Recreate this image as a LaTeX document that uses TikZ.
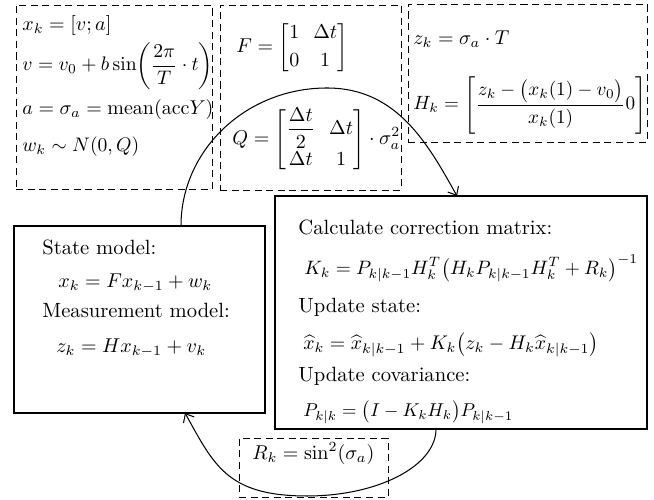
\documentclass[tikz,border=0pt]{standalone}
\usepackage{amsmath}
\usetikzlibrary{fit,arrows.meta}
\newcommand{\sm}[2]{\scalebox{#1}{$\displaystyle #2$}}
\begin{document}
\begin{tikzpicture}[x=0.485pt,y=-0.485pt,
  dbox/.style={draw, dash pattern=on 3.4pt off 2.2pt, line width=0.45pt, inner sep=0pt, outer sep=0pt},
  sbox/.style={draw, line width=0.55pt, inner sep=0pt, outer sep=0pt},
  txt/.style={inner sep=0pt, anchor=base west},
  flow/.style={line width=0.5pt, -{Straight Barb[length=3.5pt,width=6pt]}}]
\useasboundingbox (0,0) rectangle (654,500);
% boxes
\node[dbox, fit={(16,5) (212,189)}] (b1) {};
\node[dbox, fit={(220,5) (401,190)}] (b2) {};
\node[dbox, fit={(408,4) (647,142)}] (b3) {};
\node[sbox, fit={(14,226) (265,413)}] (lbox) {};
\node[sbox, fit={(275,196) (647,429)}] (rbox) {};
\node[dbox, fit={(239,438) (388,497)}] (rk) {};
% box 1
\node[txt] (t1) at (22,31) {\sm{0.97}{x_k = [v; a]}};
\node[txt] (t2) at (22,71) {\sm{0.95}{v = v_0 + b\sin\!\left(\dfrac{2\pi}{T}\cdot t\right)}};
\node[txt] (t3) at (22,115) {\sm{0.97}{a = \sigma_a = \text{mean}(\text{acc}Y)}};
\node[txt] (t4) at (22,152) {\sm{0.95}{w_k \sim N(0, Q)}};
% box 2
\setlength{\arraycolsep}{3.5pt}
\node[txt] (f) at (236,53) {\sm{0.97}{F = \begin{bmatrix}1 & \Delta t\\[2pt] 0 & 1\end{bmatrix}}};
\node[txt] (q) at (232,145) {\sm{0.97}{Q = \begin{bmatrix}\dfrac{\Delta t}{2} & \Delta t\\[3pt] \Delta t & 1\end{bmatrix}\cdot\sigma_a^2}};
% box 3
\node[txt] (z) at (413,45) {\sm{0.97}{z_k = \sigma_a\cdot T}};
\node[txt] (h) at (413,110) {\sm{0.93}{H_k = \left[\dfrac{z_k - \bigl(x_k(1) - v_0\bigr)}{x_k(1)} 0\right]}};
% left box
\node[txt] (s1) at (42,255) {State model:};
\node[txt] (s2) at (58,288) {\sm{0.97}{x_k = Fx_{k-1} + w_k}};
\node[txt] (s3) at (42,318) {Measurement model:};
\node[txt] (s4) at (56,353) {\sm{0.97}{z_k = Hx_{k-1} + v_k}};
% right box
\node[txt] (c1) at (298,235) {Calculate correction matrix:};
\node[txt] (c2) at (304,275) {\sm{0.94}{K_k = P_{k|k-1}H_k^T\bigl(H_kP_{k|k-1}H_k^T + R_k\bigr)^{-1}}};
\node[txt] (c3) at (298,313) {Update state:};
\node[txt] (c4) at (303,350) {\sm{0.96}{\widehat{x}_k = \widehat{x}_{k|k-1} + K_k\bigl(z_k - H_k\widehat{x}_{k|k-1}\bigr)}};
\node[txt] (c5) at (298,382) {Update covariance:};
\node[txt] (c6) at (303,417) {\sm{0.9}{P_{k|k} = \bigl(I - K_kH_k\bigr)P_{k|k-1}}};
% R box
\node[txt] (r) at (252,460) {\sm{0.97}{R_k = \sin^2(\sigma_a)}};
% connectors
\coordinate (a0) at (181,226);
\coordinate (a1) at (327,88);
\coordinate (a2) at (457,196);
\draw[flow] (a0) .. controls (181,150) and (246,88) .. (a1) .. controls (397,88) and (428,144) .. (a2);
\coordinate (d0) at (436,429);
\coordinate (d1) at (307,496);
\coordinate (d2) at (185,413);
\draw[flow] (d0) .. controls (436,466) and (378,496) .. (d1) .. controls (227,496) and (214,465) .. (d2);
\end{tikzpicture}
\end{document}
